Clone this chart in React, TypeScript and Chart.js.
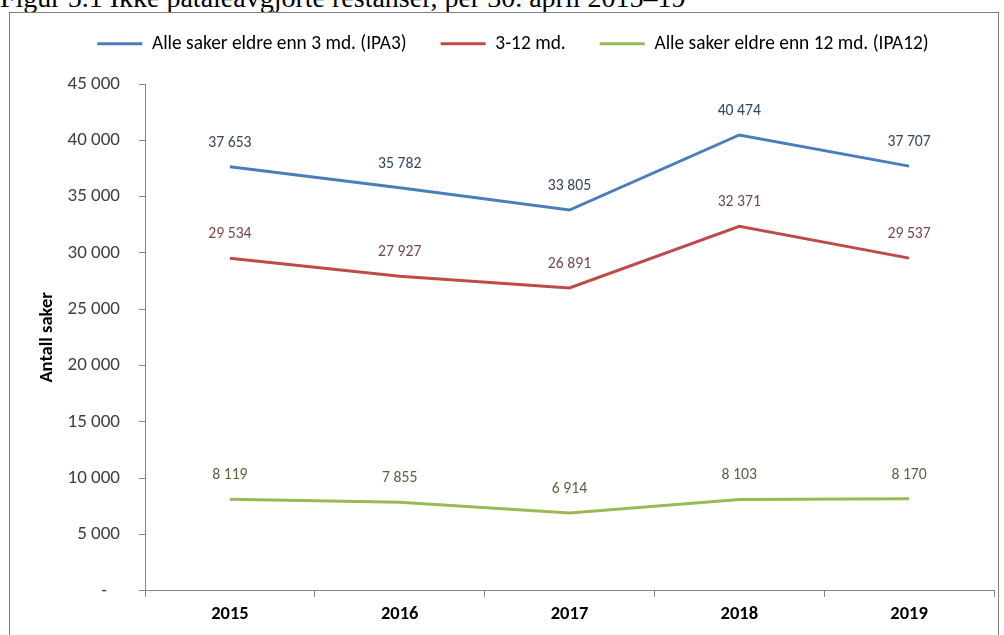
import React, { useEffect, useRef } from "react";
import { Chart, registerables } from "chart.js";

Chart.register(...registerables);

const titleText = "Figur 5.1 Ikke påtaleavgjorte restanser, per 30. april 2015–19";
const categories = ["2015", "2016", "2017", "2018", "2019"];
const ipa3 = [37653, 35782, 33805, 40474, 37707];
const mid = [29534, 27927, 26891, 32371, 29537];
const ipa12 = [8119, 7855, 6914, 8103, 8170];
const seriesNames = [
  "Alle saker eldre enn 3 md. (IPA3)",
  "3-12 md.",
  "Alle saker eldre enn 12 md. (IPA12)",
];
const yTitle = "Antall saker";

const FONT = "Carlito, Lato, 'Open Sans', sans-serif";

function fmt(v: number): string {
  return String(v).replace(/\B(?=(\d{3})+(?!\d))/g, " ");
}

const labelColors = ["#34475e", "#7a4848", "#5c6240"];

const dataLabelPlugin = {
  id: "dataLabels",
  afterDatasetsDraw(chart: any) {
    const ctx = chart.ctx;
    ctx.save();
    ctx.font = `15.7px ${FONT}`;
    ctx.textAlign = "center";
    ctx.textBaseline = "middle";
    chart.data.datasets.forEach((ds: any, i: number) => {
      const meta = chart.getDatasetMeta(i);
      ctx.fillStyle = labelColors[i];
      meta.data.forEach((el: any, j: number) => {
        ctx.fillText(fmt(ds.data[j]), el.x, el.y - 24);
      });
    });
    ctx.restore();
  },
};

const legendHeightPlugin = {
  id: "legendHeight",
  beforeInit(chart: any) {
    const orig = chart.legend.fit;
    chart.legend.fit = function () {
      orig.call(this);
      this.height = 84;
    };
  },
};

export default function App() {
  const ref = useRef<HTMLCanvasElement | null>(null);
  useEffect(() => {
    if (!ref.current) return;
    const chart = new Chart(ref.current, {
      type: "line",
      data: {
        labels: categories,
        datasets: [
          { label: seriesNames[0], data: ipa3, borderColor: "#4a7ebb", backgroundColor: "#4a7ebb", borderWidth: 3, pointRadius: 0, tension: 0 },
          { label: seriesNames[1], data: mid, borderColor: "#be4b48", backgroundColor: "#be4b48", borderWidth: 3, pointRadius: 0, tension: 0 },
          { label: seriesNames[2], data: ipa12, borderColor: "#98b954", backgroundColor: "#98b954", borderWidth: 3, pointRadius: 0, tension: 0 },
        ],
      },
      options: {
        animation: false,
        responsive: false,
        maintainAspectRatio: false,
        layout: { padding: { top: 0, left: 32, right: 10, bottom: 4 } },
        plugins: {
          legend: {
            position: "top",
            labels: {
              usePointStyle: true,
              pointStyle: "line",
              pointStyleWidth: 45,
              padding: 34,
              color: "#000",
              font: { family: FONT, size: 19.4 },
            },
          },
          tooltip: { enabled: false },
        },
        scales: {
          x: {
            offset: true,
            grid: { drawOnChartArea: false, drawTicks: true, tickLength: 6, color: "#868686", offset: true },
            border: { display: true, color: "#868686", width: 1 },
            ticks: { color: "#000", padding: 6, font: { family: FONT, size: 18.5, weight: "bold" } },
          },
          y: {
            min: 0,
            max: 45000,
            afterFit(scale: any) {
              scale.width = 113;
            },
            grid: { drawOnChartArea: false, drawTicks: true, tickLength: 6, color: "#868686" },
            border: { display: true, color: "#868686", width: 1 },
            ticks: {
              stepSize: 5000,
              color: "#404040",
              padding: 19,
              font: { family: FONT, size: 19 },
              callback: (v: any) => (Number(v) === 0 ? "-   " : fmt(Number(v))),
            },
            title: {
              display: true,
              text: yTitle,
              color: "#000",
              padding: { top: 3.9, bottom: 0 },
              font: { family: FONT, size: 18.5, weight: "bold" },
            },
          },
        },
      },
      plugins: [dataLabelPlugin, legendHeightPlugin],
    } as any);
    return () => chart.destroy();
  }, []);

  return (
    <div style={{ position: "fixed", left: 0, top: 0, width: 1004, height: 635, overflow: "hidden", background: "#fff" }}>
      <div
        style={{
          position: "absolute",
          left: 0,
          top: -16,
          fontFamily: "'Liberation Serif', 'DejaVu Serif', serif",
          fontSize: 28,
          lineHeight: "28px",
          whiteSpace: "nowrap",
          color: "#000",
        }}
      >
        {titleText}
      </div>
      <div
        style={{
          position: "absolute",
          left: 9,
          top: 12,
          width: 990,
          height: 640,
          border: "1px solid #7f7f7f",
          boxSizing: "border-box",
        }}
      />
      <canvas ref={ref} width={1004} height={635} style={{ position: "absolute", left: 0, top: 0, width: 1004, height: 635 }} />
    </div>
  );
}
